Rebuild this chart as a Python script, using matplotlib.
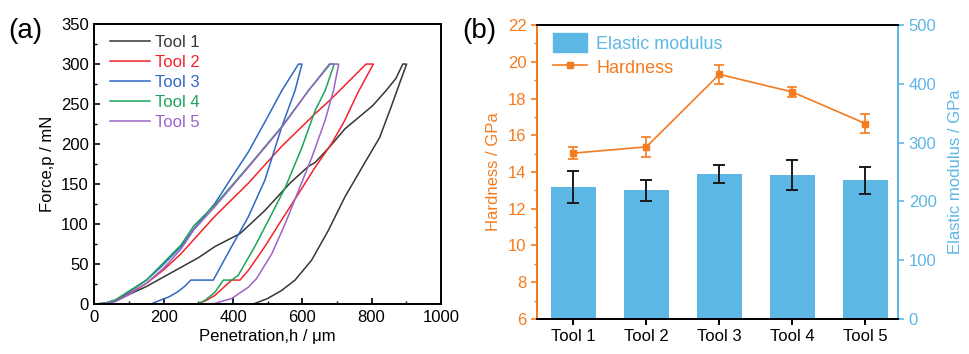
import numpy as np
import matplotlib.pyplot as plt
from matplotlib.lines import Line2D
from matplotlib.ticker import MultipleLocator

plt.rcParams['font.family'] = ['Liberation Sans', 'DejaVu Sans']

# ---------- data: (a) load-displacement curves ----------
tool_names = ["Tool 1", "Tool 2", "Tool 3", "Tool 4", "Tool 5"]
curve_colors = ["#363636", "#F5222D", "#2F67C4", "#1AA55A", "#9B63C6"]

h_tool1 = [0, 30, 60, 100, 150, 200, 250, 300, 348, 420, 492, 564, 617, 637, 680, 723, 803, 842, 870, 890, 901,
           880, 856, 823, 774, 723, 675, 627, 579, 540, 500, 464, 455]
p_tool1 = [0, 1, 4, 12, 22, 34, 46, 58, 72, 88, 117, 151, 172, 177, 197, 219, 248, 267, 282, 300, 300,
           275, 246, 208, 172, 134, 92, 55, 30, 17, 7, 1, 0]

h_tool2 = [0, 30, 60, 100, 150, 200, 250, 300, 348, 444, 540, 637, 680, 784, 805,
           760, 723, 685, 637, 589, 540, 492, 444, 420, 396, 348, 320, 297, 250]
p_tool2 = [0, 1, 4, 13, 26, 43, 63, 87, 110, 151, 197, 238, 255, 300, 300,
           264, 230, 201, 171, 138, 105, 72, 42, 30, 30, 11, 4, 0, 0]

h_tool3 = [0, 30, 60, 100, 150, 191, 250, 287, 348, 400, 444, 500, 541, 589, 599,
           579, 541, 492, 444, 396, 348, 343, 278, 260, 239, 215, 191, 162, 150]
p_tool3 = [0, 1, 5, 15, 30, 46, 72, 94, 126, 161, 190, 234, 267, 300, 300,
           267, 222, 155, 109, 72, 34, 30, 30, 22, 15, 9, 5, 0, 0]

h_tool4 = [0, 30, 60, 95, 150, 191, 250, 287, 348, 444, 541, 618, 678, 692,
           666, 637, 599, 551, 512, 463, 415, 396, 372, 348, 320, 297]
p_tool4 = [0, 1, 5, 15, 30, 48, 74, 98, 124, 172, 222, 267, 300, 300,
           267, 242, 196, 146, 113, 72, 36, 30, 30, 15, 5, 0]

h_tool5 = [0, 30, 60, 100, 150, 200, 250, 287, 348, 444, 541, 618, 681, 705,
           690, 666, 628, 589, 551, 512, 468, 444, 396, 348, 330]
p_tool5 = [0, 0.5, 3, 12, 26, 45, 69, 93, 122, 171, 221, 267, 300, 300,
           267, 230, 184, 142, 101, 63, 32, 21, 7, 1, 0]

curves_h = [h_tool1, h_tool2, h_tool3, h_tool4, h_tool5]
curves_p = [p_tool1, p_tool2, p_tool3, p_tool4, p_tool5]

# ---------- data: (b) hardness and elastic modulus ----------
hardness = [15.03, 15.37, 19.32, 18.36, 16.64]
hardness_err = [0.33, 0.54, 0.52, 0.25, 0.52]
modulus = [224, 219, 247, 245, 236]
modulus_err = [27, 18, 15.5, 25, 23]

orange = "#F47B20"
lightblue = "#5DB7E5"
fs = 12

fig = plt.figure(figsize=(9.69, 3.54), dpi=100)

# ---------- panel (a) ----------
ax = fig.add_axes([0.0975, 0.141, 0.3575, 0.791])
for h, p, c, name in zip(curves_h, curves_p, curve_colors, tool_names):
    ax.plot(h, p, color=c, lw=1.1, label=name)
ax.set_xlim(0, 1000)
ax.set_ylim(0, 350)
ax.xaxis.set_major_locator(MultipleLocator(200))
ax.xaxis.set_minor_locator(MultipleLocator(100))
ax.yaxis.set_major_locator(MultipleLocator(50))
ax.yaxis.set_minor_locator(MultipleLocator(25))
ax.tick_params(which="both", direction="in", labelsize=fs)
ax.tick_params(which="major", length=4, width=1.2, pad=4)
ax.tick_params(which="minor", length=2, width=1)
for s in ax.spines.values():
    s.set_linewidth(1.4)
ax.set_xlabel("Penetration,h / μm", fontsize=fs, labelpad=3)
ax.set_ylabel("Force,p / mN", fontsize=fs, labelpad=4)
leg = ax.legend(loc="upper left", frameon=False, fontsize=fs, handlelength=2.4,
                handletextpad=0.3, labelspacing=0.3, borderaxespad=0.35,
                bbox_to_anchor=(0.01, 1.005))
for txt, c in zip(leg.get_texts(), curve_colors):
    txt.set_color(c)
fig.text(0.008, 0.912, "(a)", fontsize=20, va="center")

# ---------- panel (b) ----------
bx = fig.add_axes([0.554, 0.099, 0.373, 0.830])
bx2 = bx.twinx()
xpos = np.arange(len(tool_names))
bx2.bar(xpos, modulus, width=0.61, color=lightblue,
        yerr=modulus_err, error_kw=dict(ecolor="#1a1a1a", elinewidth=1.4, capsize=4, capthick=1.4))
bx2.set_ylim(0, 500)
bx2.yaxis.set_major_locator(MultipleLocator(100))
bx2.tick_params(axis="y", colors=lightblue, direction="out", labelsize=fs, length=4, width=1.2)
bx2.set_ylabel("Elastic modulus / GPa", color=lightblue, fontsize=fs, labelpad=8)

bx.plot(xpos, hardness, color=orange, marker="s", ms=4.5, lw=1.2)
bx.errorbar(xpos, hardness, yerr=hardness_err, fmt="none", ecolor=orange,
            capsize=3.5, elinewidth=1.2, capthick=1.2)
bx.set_ylim(6, 22)
bx.set_xlim(-0.5, 4.45)
bx.yaxis.set_major_locator(MultipleLocator(2))
bx.yaxis.set_minor_locator(MultipleLocator(1))
bx.set_xticks(xpos)
bx.set_xticklabels(tool_names)
bx.tick_params(axis="y", which="both", colors=orange, direction="out", labelsize=fs)
bx.tick_params(axis="y", which="major", length=4, width=1.2)
bx.tick_params(axis="y", which="minor", length=2, width=1)
bx.tick_params(axis="x", direction="out", labelsize=fs, length=4, width=1.4)
bx.set_ylabel("Hardness / GPa", color=orange, fontsize=fs, labelpad=5)
bx.set_zorder(bx2.get_zorder() + 1)
bx.patch.set_visible(False)

for a in (bx, bx2):
    for s in a.spines.values():
        s.set_linewidth(1.4)
    a.spines["left"].set_color(orange)
    a.spines["right"].set_color(lightblue)

handles = [plt.Rectangle((0, 0), 1, 1, color=lightblue),
           Line2D([], [], color=orange, marker="s", ms=4.5, lw=1.2)]
leg2 = bx.legend(handles, ["Elastic modulus", "Hardness"], loc="upper left", frameon=False,
                 fontsize=13, handlelength=1.9, handleheight=1.25, handletextpad=0.5,
                 labelspacing=0.25, borderaxespad=0.2, bbox_to_anchor=(0.015, 1.01))
leg2.get_texts()[0].set_color(lightblue)
leg2.get_texts()[1].set_color(orange)
fig.text(0.477, 0.912, "(b)", fontsize=20, va="center")

fig.savefig("out.png", dpi=100)
